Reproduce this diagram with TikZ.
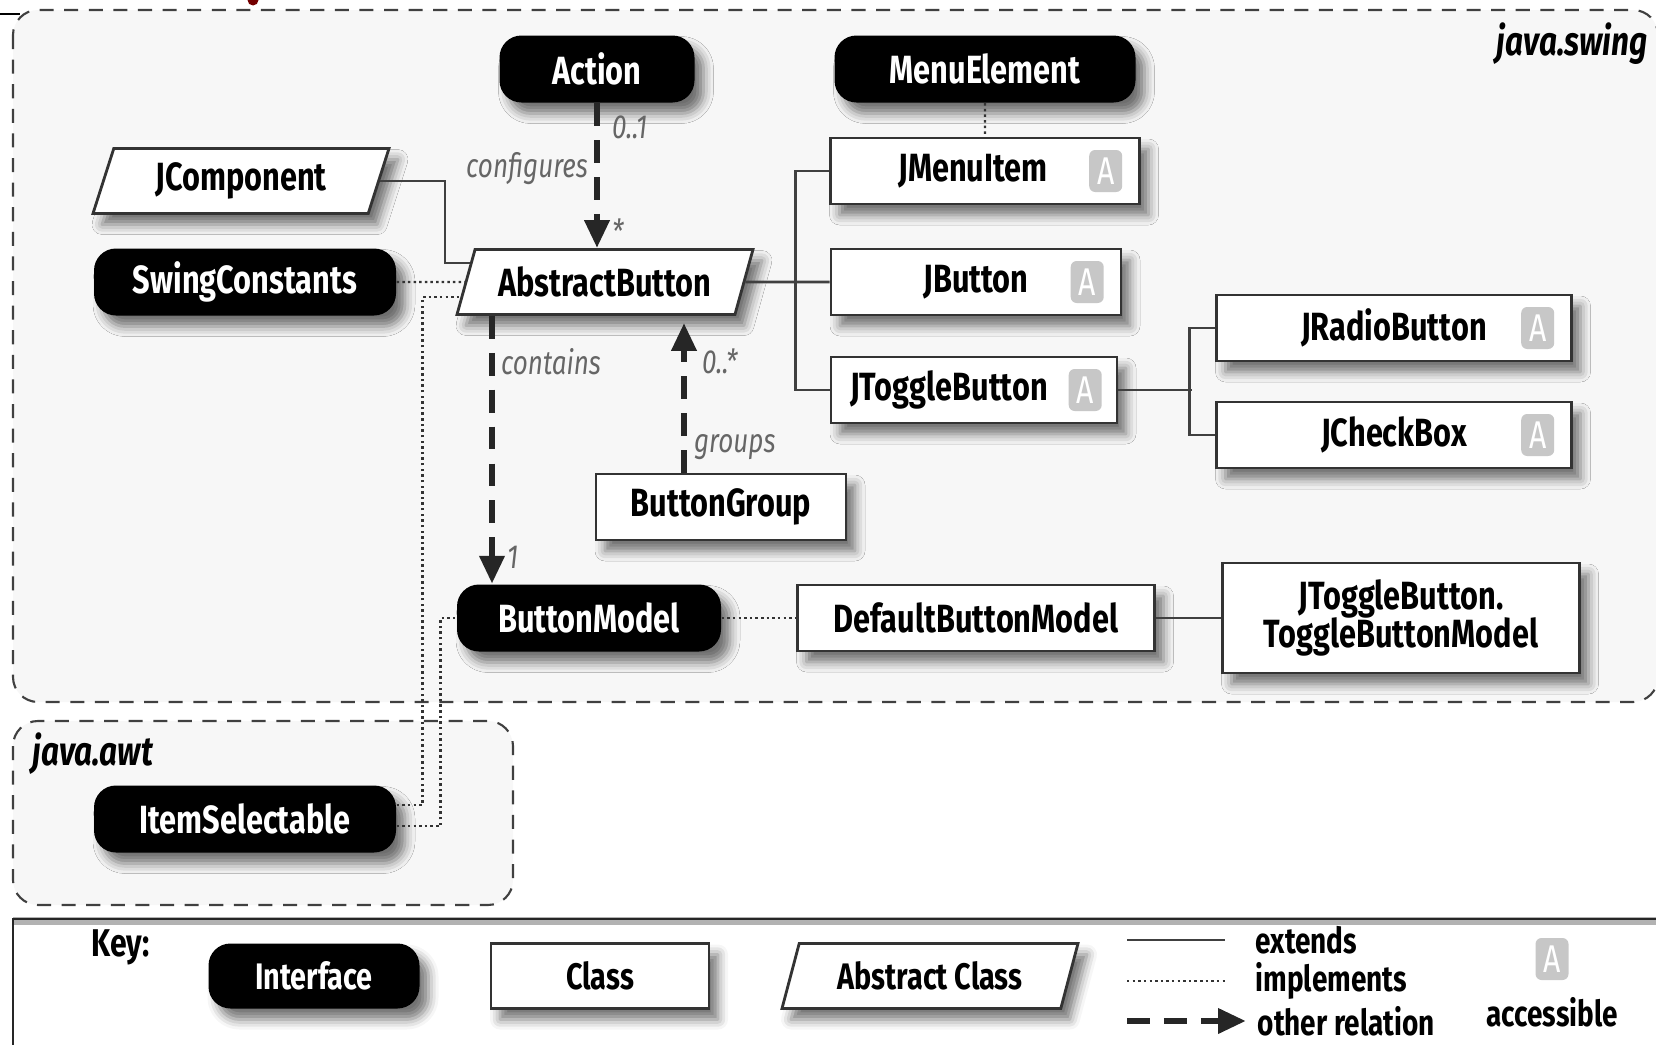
\documentclass[tikz,border=0pt]{standalone}
\usepackage{fontspec}
\setmainfont{Fira Sans}[FakeStretch=0.78]
\usepackage{tikz}
\usetikzlibrary{positioning,shapes.geometric,arrows.meta,shadows.blur}

\begin{document}
\begin{tikzpicture}[on grid,
					shadowed/.style={blur shadow={shadow xshift=0.9mm,shadow yshift=-1.1mm,shadow blur radius=1mm,shadow opacity=55}},
					box/.style={shadowed,font=\fontsize{11.2}{11}\selectfont\bfseries,inner xsep=1mm,inner ysep=0.5mm,align=center},
					interface/.style={box,rectangle,rounded corners=2.2mm,fill=black,text=white,minimum height=6.7mm},
					concrete/.style={box,rectangle,draw=black!80,line width=0.8pt,fill=white,minimum height=6.6mm},
					abstract/.style={box,trapezium,trapezium left angle=66,trapezium right angle=114,trapezium stretches body,draw=black!80,line width=0.8pt,fill=white,minimum width=29.6mm,minimum height=6.5mm},
					badge/.style={rectangle,rounded corners=0.6mm,fill=black!22,text=white,minimum width=3.3mm,minimum height=4.2mm,inner sep=0pt,font=\fontsize{11}{11}\selectfont},
					extends/.style={draw=black!75,line width=0.8pt},
					implements/.style={draw=black!80,line width=0.7pt,dash pattern=on 0.7pt off 0.9pt},
					relation/.style={draw=black!85,line width=1.9pt,dash pattern=on 6.5pt off 4pt,-{Triangle[length=2.8mm,width=2.4mm]}},
					rlabel/.style={text=black!60,font=\fontsize{9.5}{11}\selectfont\itshape,inner sep=0.5pt},
					package/.style={draw=black!75,line width=0.6pt,dash pattern=on 4pt off 3pt,fill=black!3,rounded corners=2.5mm},
					keytext/.style={font=\fontsize{10.2}{11}\selectfont\bfseries,inner sep=0.5mm}]
					\useasboundingbox (0,0) rectangle (16.56,-10.45);
					\draw[package] (0.13,-0.10) rectangle (16.58,-7.02);
					\draw[package] (0.13,-7.21) rectangle (5.13,-9.05);
					\fill[red!45!black] (2.53,0) circle (0.55mm);
					\draw[line width=0.8pt] (0,-0.14) -- (0.2,-0.14);
					\node[font=\fontsize{11.5}{12}\selectfont\bfseries\itshape,anchor=east] (swing_label) at (16.6,-0.44) {java.swing};
					\node[font=\fontsize{11.5}{12}\selectfont\bfseries\itshape,anchor=west] (awt_label) at (0.2,-7.54) {java.awt};
					\draw[black!30,line width=2.5pt] (0.13,-9.21) -- (16.56,-9.21);
					\draw[black!85,line width=0.8pt] (0.13,-10.5) |- (16.6,-9.19);

					\node[abstract] (abstract_button) at (6.05,-2.82) {AbstractButton};
					\node[interface,minimum width=19.5mm] (action) [above left=21.3mm and 0.8mm of abstract_button] {Action};
					\node[interface,minimum width=30.1mm] (menu_element) [right=38.8mm of action] {MenuElement};
					\node[abstract] (j_component) [above left=10.1mm and 36.4mm of abstract_button] {JComponent};
					\node[interface,minimum width=30.2mm] (swing_constants) [left=36mm of abstract_button] {SwingConstants};
					\node[interface,minimum width=30.2mm] (item_selectable) [below=53.7mm of swing_constants] {ItemSelectable};
					\node[concrete,minimum width=29mm] (j_button) [right=37.1mm of abstract_button] {JButton};
					\node[concrete,minimum width=30.9mm] (j_menu_item) [above right=11.1mm and 0.9mm of j_button] {JMenuItem\hspace*{2.4mm}};
					\node[concrete,minimum width=28.6mm] (j_toggle_button) [below left=10.8mm and 0.2mm of j_button] {JToggleButton\hspace*{5mm}};
					\node[concrete,minimum width=35.5mm] (j_radio_button) [above right=6.2mm and 42mm of j_toggle_button] {JRadioButton};
					\node[concrete,minimum width=35.5mm] (j_check_box) [below=10.7mm of j_radio_button] {JCheckBox};
					\node[concrete,minimum width=25mm] (button_group) [below right=22.5mm and 11.6mm of abstract_button] {ButtonGroup};
					\node[interface,minimum width=26.4mm] (button_model) [below left=33.6mm and 1.6mm of abstract_button] {ButtonModel};
					\node[concrete,minimum width=35.7mm] (default_button_model) [right=38.7mm of button_model] {DefaultButtonModel};
					\node[concrete,minimum width=35.7mm,minimum height=11mm] (toggle_button_model) [right=42.5mm of default_button_model] {JToggleButton.\\ToggleButtonModel};

					\node[badge] (menu_item_a) [left=1.8mm of j_menu_item.east] {A};
					\node[badge] (button_a) [left=1.8mm of j_button.east] {A};
					\node[badge] (toggle_button_a) [left=1.6mm of j_toggle_button.east] {A};
					\node[badge] (radio_button_a) [left=1.8mm of j_radio_button.east] {A};
					\node[badge] (check_box_a) [left=1.8mm of j_check_box.east] {A};

					\draw[extends] (j_component.east) -| ([xshift=6.5mm]j_component.east |- abstract_button.172) -- (abstract_button.172);
					\draw[extends] (abstract_button) -- (j_button);
					\draw[extends] (j_menu_item.west) -- ++(-3.4mm,0) |- (j_toggle_button.west);
					\draw[extends] (j_toggle_button.east) -- ++(7.4mm,0);
					\draw[extends] (j_radio_button.west) -- ++(-2.6mm,0) |- (j_check_box.west);
					\draw[extends] (default_button_model) -- (default_button_model -| toggle_button_model.west);

					\draw[implements] (swing_constants) -- (abstract_button);
					\draw[implements] (menu_element) -- (j_menu_item);
					\draw[implements] (button_model) -- (default_button_model);
					\draw[implements] ([yshift=1.4mm]item_selectable.east) -| ([xshift=2.6mm]item_selectable.east |- abstract_button.186) -- (abstract_button.186);
					\draw[implements] ([yshift=-0.7mm]item_selectable.east) -| ([xshift=4.4mm]item_selectable.east |- button_model.west) -- (button_model.west);

					\draw[relation] (action) -- (action |- abstract_button.north)
						node[rlabel,pos=0.17,right=1mm] {0..1}
						node[rlabel,pos=0.45,left=0.4mm] {configures}
						node[rlabel,pos=0.88,right=1mm] {*};
					\draw[relation] ([xshift=-9.7mm]button_model.north |- abstract_button.south) -- ([xshift=-9.7mm]button_model.north)
						node[rlabel,pos=0.17,right=0.4mm] {contains}
						node[rlabel,pos=0.9,right=1mm] {1};
					\draw[relation,shorten >=0.7mm] ([xshift=-3.7mm]button_group.north) -- ([xshift=-3.7mm]button_group.north |- abstract_button.south)
						node[rlabel,pos=0.71,right=1.3mm] {0..*}
						node[rlabel,pos=0.16,right=0.5mm] {groups};

					\node[font=\fontsize{11}{11}\selectfont\bfseries] (key) at (1.21,-9.47) {Key:};
					\node[interface,minimum width=21.1mm,minimum height=6.5mm,font=\fontsize{10.5}{11}\selectfont\bfseries] (key_interface) at (3.14,-9.76) {Interface};
					\node[concrete,minimum width=21.8mm,minimum height=6.5mm,font=\fontsize{10.5}{11}\selectfont\bfseries] (key_class) [right=28.6mm of key_interface] {Class};
					\node[abstract,font=\fontsize{10.5}{11}\selectfont\bfseries] (key_abstract) [right=33mm of key_class] {Abstract Class};
					\node[keytext,anchor=west] (extends_text) at (12.5,-9.4) {extends};
					\node[keytext,anchor=west] (implements_text) at (12.5,-9.81) {implements};
					\node[keytext,anchor=west] (relation_text) at (12.52,-10.21) {other relation};
					\coordinate (extends_start) at (11.27,-9.4);
					\coordinate (implements_start) at (11.27,-9.81);
					\coordinate (relation_start) at (11.27,-10.21);
					\draw[extends,shorten >=2.5mm] (extends_start) -- (extends_text);
					\draw[implements,shorten >=2.5mm] (implements_start) -- (implements_text);
					\draw[relation,shorten >=0.6mm] (relation_start) -- (relation_text);
					\node[badge] (key_a) at (15.52,-9.59) {A};
					\node[keytext] (accessible_text) at (15.52,-10.12) {accessible};
				\end{tikzpicture}
\end{document}
